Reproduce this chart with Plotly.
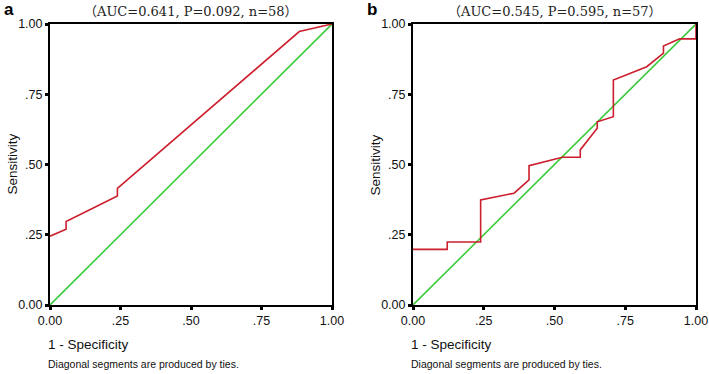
import plotly.graph_objects as go

# Panel a ROC
a_fpr = [0.0, 0.057, 0.057, 0.239, 0.239, 0.884, 1.0]
a_tpr = [0.245, 0.270, 0.297, 0.388, 0.415, 0.973, 1.0]
# Panel b ROC
b_fpr = [0.0, 0.121, 0.121, 0.239, 0.239, 0.357, 0.410, 0.410, 0.528, 0.591, 0.591,
         0.651, 0.651, 0.708, 0.708, 0.826, 0.885, 0.885, 0.942, 1.0, 1.0]
b_tpr = [0.198, 0.198, 0.224, 0.224, 0.374, 0.398, 0.445, 0.496, 0.526, 0.526, 0.552,
         0.629, 0.652, 0.670, 0.801, 0.848, 0.896, 0.922, 0.947, 0.947, 1.0]
ref_line = [0.0, 1.0]

tick_vals = [0, 0.25, 0.5, 0.75, 1.0]
tick_text = ["0.00", ".25", ".50", ".75", "1.00"]
titles = ["（AUC=0.641, P=0.092, n=58）", "（AUC=0.545, P=0.595, n=57）"]
panel_labels = ["a", "b"]

RED = "#CC1F2D"
GREEN = "#3CCB3C"

W, H = 709, 374


def px(x):
    return x / W


def py(y):
    return 1 - y / H


fig = go.Figure()
fig.add_trace(go.Scatter(x=ref_line, y=ref_line, mode="lines", line=dict(color=GREEN, width=1.6),
                         xaxis="x", yaxis="y", showlegend=False))
fig.add_trace(go.Scatter(x=a_fpr, y=a_tpr, mode="lines", line=dict(color=RED, width=1.6),
                         xaxis="x", yaxis="y", showlegend=False))
fig.add_trace(go.Scatter(x=ref_line, y=ref_line, mode="lines", line=dict(color=GREEN, width=1.6),
                         xaxis="x2", yaxis="y2", showlegend=False))
fig.add_trace(go.Scatter(x=b_fpr, y=b_tpr, mode="lines", line=dict(color=RED, width=1.6),
                         xaxis="x2", yaxis="y2", showlegend=False))

ydom = [py(305), py(24)]
xpix = [(50, 332), (413, 696)]
xdoms = [[px(l), px(r)] for l, r in xpix]

tickfont = dict(family="Liberation Sans, Arial, sans-serif", size=12.5, color="#111")
axis_common = dict(range=[0, 1], showgrid=False, zeroline=False, showline=True,
                   linecolor="black", linewidth=2, mirror=True, ticks="outside",
                   ticklen=3, tickwidth=3, tickcolor="black", tickvals=tick_vals,
                   ticktext=tick_text, tickfont=tickfont, fixedrange=True,
                   automargin=False)

fig.update_layout(
    template="none",
    width=W, height=H, margin=dict(l=0, r=0, t=0, b=0, pad=0),
    paper_bgcolor="white", plot_bgcolor="white",
    xaxis=dict(domain=xdoms[0], anchor="y", **axis_common),
    yaxis=dict(domain=ydom, anchor="x", **axis_common),
    xaxis2=dict(domain=xdoms[1], anchor="y2", **axis_common),
    yaxis2=dict(domain=ydom, anchor="x2", **axis_common),
)

annots = []
for i, (l, r) in enumerate(xpix):
    annots.append(dict(text=titles[i], x=px((l + r) / 2), y=py(11), xref="paper", yref="paper",
                       xanchor="center", yanchor="middle", showarrow=False,
                       font=dict(family="DejaVu Serif, Noto Sans CJK SC, serif", size=13, color="#222")))
    annots.append(dict(text="<b>" + panel_labels[i] + "</b>", x=px(l - 41), y=py(10),
                       xref="paper", yref="paper", xanchor="center", yanchor="middle",
                       showarrow=False, font=dict(family="Liberation Sans, Arial, sans-serif", size=17, color="black")))
    annots.append(dict(text="Sensitivity", x=px(l - 38), y=py(164.5),
                       xref="paper", yref="paper", xanchor="center", yanchor="middle",
                       textangle=-90, showarrow=False,
                       font=dict(family="Liberation Sans, Arial, sans-serif", size=13.5, color="#111")))
    annots.append(dict(text="1 - Specificity", x=px(l - 4), y=py(344),
                       xref="paper", yref="paper", xanchor="left", yanchor="middle",
                       showarrow=False,
                       font=dict(family="Liberation Sans, Arial, sans-serif", size=13.5, color="#111")))
    annots.append(dict(text="Diagonal segments are produced by ties.", x=px(l - 4), y=py(364),
                       xref="paper", yref="paper", xanchor="left", yanchor="middle",
                       showarrow=False,
                       font=dict(family="Liberation Sans, Arial, sans-serif", size=10.5, color="#111")))
fig.update_layout(annotations=annots)

# remove the default page margin so the figure fills the window exactly
fig.write_html("out.html", config={"displayModeBar": False},
               post_script="document.body.style.margin='0';document.body.style.overflow='hidden';")
